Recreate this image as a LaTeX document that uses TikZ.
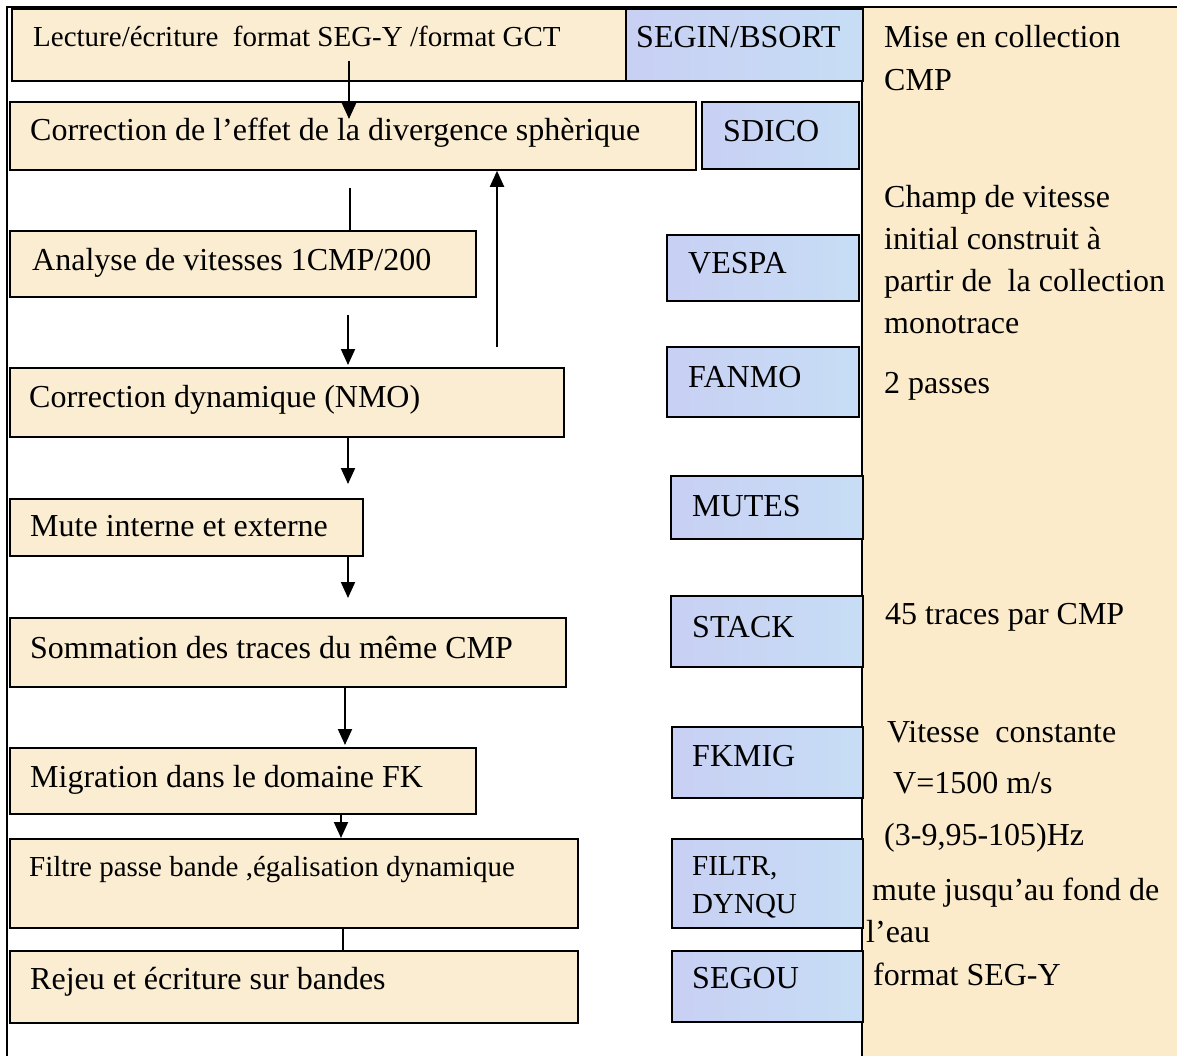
\documentclass[tikz,border=0pt]{standalone}
\usepackage{fontspec}
\setmainfont{Liberation Serif}
\usetikzlibrary{arrows.meta}
\definecolor{beige}{HTML}{FBEDD2}
\definecolor{panelc}{HTML}{FBEBCA}
\definecolor{blueL}{HTML}{C8D0F4}
\definecolor{blueM}{HTML}{D2CDF1}
\definecolor{blueR}{HTML}{C7DDF5}
\begin{document}
\begin{tikzpicture}[x=1pt,y=-1pt,
  bb/.style={draw=black, line width=1.8pt, fill=beige, anchor=north west, inner sep=0pt},
  blu/.style={draw=black, line width=1.8pt, left color=blueL, middle color=blueM, right color=blueR, anchor=north west, inner sep=0pt},
  txt/.style={anchor=base west, inner sep=0pt, font=\fontsize{32}{38}\selectfont},
  stxt/.style={anchor=base west, inner sep=0pt, font=\fontsize{29}{35}\selectfont},
  arr/.style={line width=2pt, -{Triangle[width=14pt,length=16pt]}},
  ln/.style={line width=2pt},
  frame/.style={line width=2pt}]
\useasboundingbox (0,0) rectangle (1177,1056);
\fill[white] (0,0) rectangle (1177,1056);
% right panel
\node[fill=panelc, anchor=north west, inner sep=0pt, minimum width=315pt, minimum height=1049pt] (panel) at (862,7) {};
\draw[frame] (panel.north west) -- (panel.south west);
\coordinate (fbl) at (7,1056);
\coordinate (ftl) at (7,7);
\coordinate (ftr) at (1177,7);
\draw[frame] (fbl) -- (ftl) -- (ftr);
% beige boxes
\node[bb, minimum width=614pt, minimum height=72pt] (lect) at (11,8) {};
\node[bb, minimum width=686pt, minimum height=68pt] (div) at (9,101) {};
\node[bb, minimum width=466pt, minimum height=66pt] (ana) at (9,230) {};
\node[bb, minimum width=554pt, minimum height=69pt] (nmo) at (9,367) {};
\node[bb, minimum width=353pt, minimum height=57pt] (mute) at (9,498) {};
\node[bb, minimum width=556pt, minimum height=69pt] (som) at (9,617) {};
\node[bb, minimum width=466pt, minimum height=66pt] (mig) at (9,747) {};
\node[bb, minimum width=568pt, minimum height=89pt] (fil) at (9,838) {};
\node[bb, minimum width=568pt, minimum height=72pt] (rej) at (9,950) {};
% blue boxes
\node[blu, minimum width=237pt, minimum height=72pt] (segin) at (625,8) {};
\node[blu, minimum width=157pt, minimum height=67pt] (sdico) at (701,101) {};
\node[blu, minimum width=192pt, minimum height=66pt] (vespa) at (666,234) {};
\node[blu, minimum width=192pt, minimum height=70pt] (fanmo) at (666,346) {};
\node[blu, minimum width=192pt, minimum height=63pt] (mutes) at (670,475) {};
\node[blu, minimum width=192pt, minimum height=71pt] (stack) at (670,595) {};
\node[blu, minimum width=191pt, minimum height=71pt] (fkmig) at (671,726) {};
\node[blu, minimum width=191pt, minimum height=89pt] (filtr) at (671,838) {};
\node[blu, minimum width=191pt, minimum height=71pt] (segou) at (671,950) {};
% connectors
\coordinate (c1s) at (349,61);
\coordinate (c1e) at (349,119);
\draw[arr] (c1s) -- (c1e);
\coordinate (c2s) at (350,188);
\draw[ln] (c2s) -- (c2s |- ana.north);
\coordinate (c3s) at (348,315);
\coordinate (c3e) at (348,365);
\draw[arr] (c3s) -- (c3e);
\coordinate (c4s) at (497,347);
\draw[arr] (c4s) -- (c4s |- div.south);
\coordinate (c5e) at (348,484);
\draw[arr] (c5e |- nmo.south) -- (c5e);
\coordinate (c6e) at (348,598);
\draw[arr] (c6e |- mute.south) -- (c6e);
\coordinate (c7e) at (345,745);
\draw[arr] (c7e |- som.south) -- (c7e);
\coordinate (c8e) at (341,838);
\draw[arr] (c8e |- mig.south) -- (c8e);
\coordinate (c9) at (343,900);
\draw[ln] (c9 |- fil.south) -- (c9 |- rej.north);
% texts in beige boxes
\node[stxt] (tlect) at (33,47) {Lecture/écriture\ \ format SEG-Y /format GCT};
\node[txt] (tdiv) at (30,141) {Correction de l’effet de la divergence sphèrique};
\node[txt] (tana) at (32,271) {Analyse de vitesses 1CMP/200};
\node[txt] (tnmo) at (29,407) {Correction dynamique (NMO)};
\node[txt] (tmute) at (30,536) {Mute interne et externe};
\node[txt] (tsom) at (30,658) {Sommation des traces du même CMP};
\node[txt] (tmig) at (30,787) {Migration dans le domaine FK};
\node[stxt] (tfil) at (29,876) {Filtre passe bande ,égalisation dynamique};
\node[txt] (trej) at (30,989) {Rejeu et écriture sur bandes};
% texts in blue boxes
\node[txt] (tsegin) at (636,48) {SEGIN/BSORT};
\node[txt] (tsdico) at (723,142) {SDICO};
\node[txt] (tvespa) at (688,274) {VESPA};
\node[txt] (tfanmo) at (688,387) {FANMO};
\node[txt] (tmutes) at (692,516) {MUTES};
\node[txt] (tstack) at (692,637) {STACK};
\node[txt] (tfkmig) at (692,766) {FKMIG};
\node[stxt] (tfiltr) at (692,875) {FILTR,};
\node[stxt] (tdynqu) at (692,913) {DYNQU};
\node[txt] (tsegou) at (692,988) {SEGOU};
% texts in right panel
\node[txt] (r1) at (884,48) {Mise en collection};
\node[txt] (r2) at (884,91) {CMP};
\node[txt] (r3) at (884,208) {Champ de vitesse};
\node[txt] (r4) at (884,250) {initial construit à};
\node[txt] (r5) at (884,292) {partir de\ \ la collection};
\node[txt] (r6) at (884,334) {monotrace};
\node[txt] (r7) at (884,393) {2 passes};
\node[txt] (r8) at (885,624) {45 traces par CMP};
\node[txt] (r9) at (887,742) {Vitesse\ \ constante};
\node[txt] (r10) at (893,793) {V=1500 m/s};
\node[txt] (r11) at (884,845) {(3-9,95-105)Hz};
\node[txt] (r12) at (872,900) {mute jusqu’au fond de};
\node[txt] (r13) at (866,942) {l’eau};
\node[txt] (r14) at (873,985) {format SEG-Y};
\end{tikzpicture}
\end{document}
